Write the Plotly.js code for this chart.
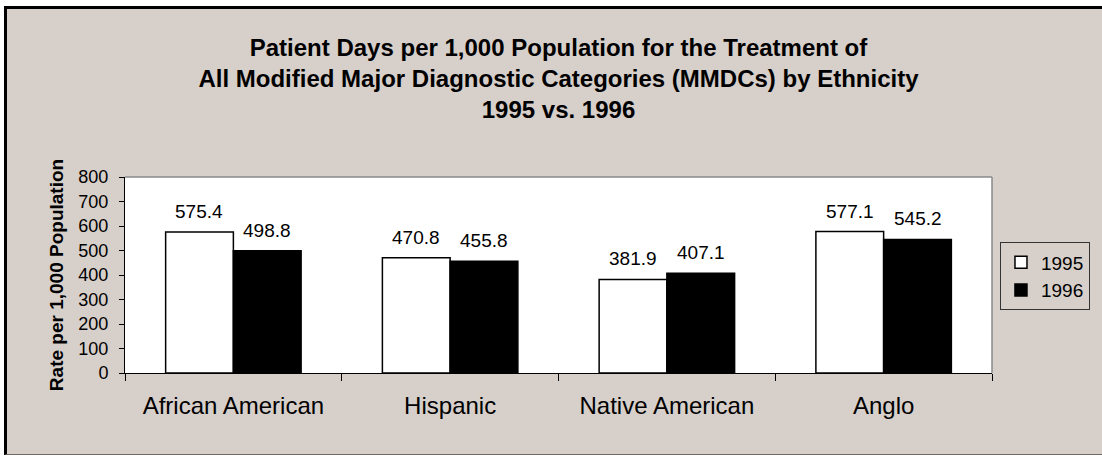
<!DOCTYPE html>
<html>
<head>
<meta charset="utf-8">
<script src="https://cdn.plot.ly/plotly-3.0.1.min.js"></script>
<style>
  html, body { margin: 0; padding: 0; background: #ffffff; }
  #wrap { position: relative; width: 1102px; height: 456px; overflow: hidden; background: #ffffff; }
  #frame { position: absolute; left: 4px; top: 6px; width: 1110px; height: 449px; box-sizing: border-box;
           border-left: 3px solid #000; border-top: 3px solid #000; border-bottom: 1px solid #6f6a66; background: #D7CFCA; }
  #chart { position: absolute; left: 0; top: 0; width: 1102px; height: 456px; }
</style>
</head>
<body>
<div id="wrap">
  <div id="frame"></div>
  <div id="chart"></div>
</div>
<script>
const categories = ["African American", "Hispanic", "Native American", "Anglo"];
const series1995 = [575.4, 470.8, 381.9, 577.1];
const series1996 = [498.8, 455.8, 407.1, 545.2];
const seriesNames = ["1995", "1996"];
const yTickValues = [0, 100, 200, 300, 400, 500, 600, 700, 800];

const font = "Arial, 'Liberation Sans', sans-serif";

const traces = [
  { type: "bar", name: seriesNames[0], x: categories, y: series1995,
    marker: { color: "#ffffff", line: { color: "#000000", width: 1.5 } }, hoverinfo: "x+y" },
  { type: "bar", name: seriesNames[1], x: categories, y: series1996,
    marker: { color: "#000000", line: { color: "#000000", width: 1.5 } }, hoverinfo: "x+y" }
];

const annotations = [];
categories.forEach((c, i) => {
  [[series1995, -34], [series1996, 34]].forEach(([s, dx]) => {
    annotations.push({ x: c, y: s[i], xref: "x", yref: "y", text: s[i].toFixed(1),
      showarrow: false, xshift: dx, yanchor: "bottom", yshift: 8,
      font: { family: font, size: 19, color: "#000" } });
  });
});

const layout = {
  width: 1102, height: 456,
  paper_bgcolor: "rgba(0,0,0,0)", plot_bgcolor: "#ffffff",
  margin: { l: 125, r: 107, t: 177, b: 83, pad: 0 },
  font: { family: font, color: "#000" },
  title: { text: "<b>Patient Days per 1,000 Population for the Treatment of<br>All Modified Major Diagnostic Categories (MMDCs) by Ethnicity<br>1995 vs. 1996</b>",
    x: 0.5, xref: "paper", xanchor: "center", y: 0.877, yref: "container", yanchor: "middle",
    font: { family: font, size: 24, color: "#000" } },
  barmode: "group", bargap: 0.375, bargroupgap: 0,
  xaxis: { type: "category", showgrid: false, ticks: "outside", tickson: "boundaries", ticklen: 7,
    tickcolor: "#000", showline: true, linecolor: "#000", linewidth: 1, ticklabelstandoff: 11,
    tickfont: { family: font, size: 24, color: "#000" }, zeroline: false, fixedrange: true },
  yaxis: { range: [0, 800], tickvals: yTickValues, showgrid: false, ticks: "outside", ticklen: 5,
    tickcolor: "#000", showline: true, linecolor: "#000", linewidth: 1, zeroline: false,
    ticklabelstandoff: 7,
    tickfont: { family: font, size: 18, color: "#000" },
    title: { text: "<b>Rate per 1,000 Population</b>", standoff: 9, font: { family: font, size: 19, color: "#000" } },
    fixedrange: true },
  shapes: [
    { type: "line", xref: "paper", yref: "paper", x0: 0, x1: 1, y0: 1, y1: 1, line: { color: "#8a8a8a", width: 1.5 } },
    { type: "line", xref: "paper", yref: "paper", x0: 1, x1: 1, y0: 0, y1: 1, line: { color: "#8a8a8a", width: 1.5 } }
  ],
  annotations: annotations,
  legend: { x: 1.0092, y: 0.666, xanchor: "left", yanchor: "top", bgcolor: "rgba(0,0,0,0)",
    bordercolor: "#333", borderwidth: 1, font: { family: font, size: 19, color: "#000" },
    itemwidth: 30 },
  showlegend: true
};

Plotly.newPlot("chart", traces, layout, { displayModeBar: false, staticPlot: true });
</script>
</body>
</html>
